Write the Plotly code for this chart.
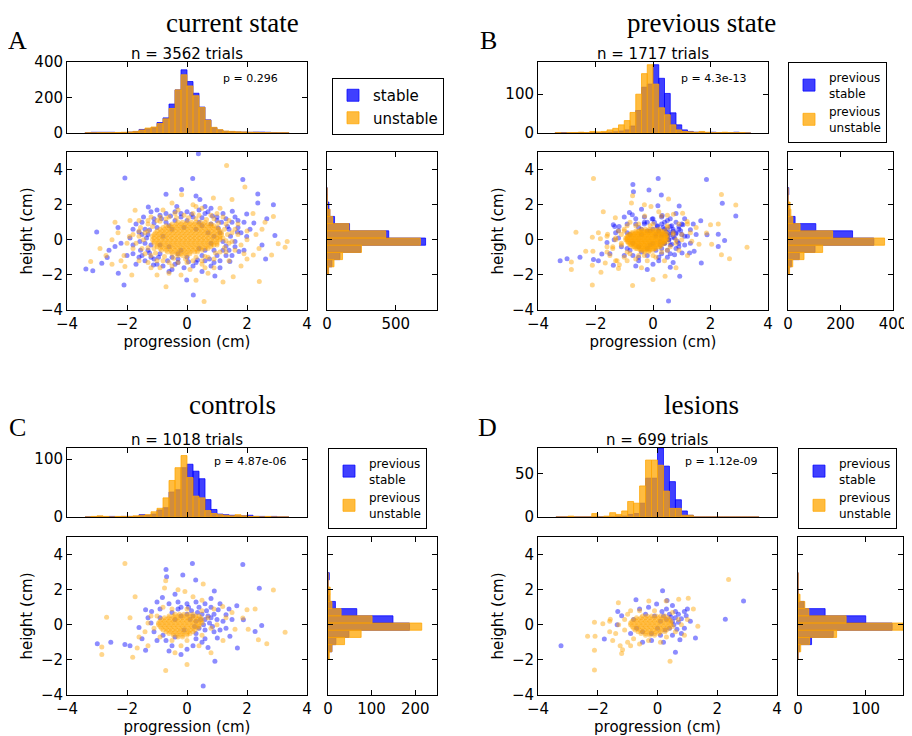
import plotly.graph_objects as go

# The page shows the figure inside an 8 px body margin, so the figure is 8 px
# smaller than the window and every pixel position below is shifted by that margin.
WIN_W, WIN_H = 912, 736
PAGE_MARGIN = 8
W, H = WIN_W - PAGE_MARGIN, WIN_H - PAGE_MARGIN

# ------------------------------------------------------------------ data
N_TRIALS = [3562, 1717, 1018, 699]
P_VALUES = ["0.296", "4.3e-13", "4.87e-06", "1.12e-09"]
PANEL_TITLES = ["current state", "previous state", "controls", "lesions"]
PANEL_LETTERS = ["A", "B", "C", "D"]
SERIES_NAMES = [["stable", "unstable"]] + [["previous<br>stable", "previous<br>unstable"]] * 3

# progression histogram bin centres (cm)
TOP_CENTERS = [-3.3, -3.1, -2.9, -2.7, -2.5, -2.3, -2.1, -1.9, -1.7, -1.5, -1.3, -1.1,
               -0.9, -0.7, -0.5, -0.3, -0.1, 0.1, 0.3, 0.5, 0.7, 0.9, 1.1, 1.3,
               1.5, 1.7, 1.9, 2.1, 2.3, 2.5, 2.7, 2.9, 3.1, 3.3]
# height histogram bin centres (cm)
SIDE_CENTERS = [2.765, 2.355, 1.945, 1.535, 1.125, 0.715, 0.305, -0.105,
                -0.515, -0.925, -1.335, -1.745]

# progression counts
A_TOP_STABLE = [2, 4, 4, 4, 4, 3, 3, 5, 8, 20, 24, 30, 59, 85, 163, 243, 356, 290,
                224, 146, 74, 30, 17, 9, 8, 6, 5, 4, 5, 5, 4, 2, 1, 1]
A_TOP_UNSTABLE = [1, 1, 2, 2, 2, 3, 4, 6, 9, 17, 28, 34, 53, 80, 138, 243, 328, 265,
                  210, 144, 72, 32, 19, 11, 9, 7, 6, 4, 4, 2, 2, 1, 1, 1]
B_TOP_STABLE = [1, 1, 0, 0, 1, 0, 1, 1, 1, 2, 3, 5, 8, 18, 58, 118, 126, 176,
                141, 102, 52, 21, 8, 4, 2, 2, 1, 2, 1, 1, 1, 2, 0, 0]
B_TOP_UNSTABLE = [1, 0, 1, 1, 2, 1, 4, 3, 4, 8, 12, 21, 32, 53, 100, 153, 176, 126,
                  65, 47, 21, 8, 4, 3, 2, 4, 2, 1, 1, 2, 1, 1, 1, 0]
C_TOP_STABLE = [0, 0, 1, 0, 1, 0, 1, 1, 1, 4, 3, 5, 12, 16, 43, 47, 85, 91,
                79, 66, 30, 13, 5, 4, 3, 2, 2, 3, 1, 1, 0, 1, 0, 0]
C_TOP_UNSTABLE = [0, 1, 2, 1, 0, 1, 1, 1, 2, 3, 4, 9, 15, 33, 63, 85, 106, 68,
                  36, 33, 11, 6, 4, 3, 2, 4, 2, 1, 1, 0, 1, 0, 0, 0]
D_TOP_STABLE = [0, 0, 0, 0, 0, 0, 0, 0, 0, 0, 1, 1, 3, 4, 16, 45, 45, 80,
                59, 41, 20, 7, 2, 0, 0, 0, 0, 0, 0, 0, 0, 0, 0, 0]
D_TOP_UNSTABLE = [0, 0, 1, 0, 0, 0, 4, 0, 1, 5, 3, 7, 18, 16, 36, 66, 66, 60,
                  30, 10, 10, 2, 2, 0, 0, 0, 0, 0, 0, 0, 0, 0, 0, 0]

# height counts
A_SIDE_STABLE = [1, 2, 14, 20, 55, 164, 449, 717, 246, 94, 36, 10]
A_SIDE_UNSTABLE = [0, 1, 3, 22, 41, 159, 427, 679, 251, 113, 51, 12]
B_SIDE_STABLE = [3, 0, 2, 5, 27, 106, 246, 327, 103, 43, 13, 4]
B_SIDE_UNSTABLE = [0, 0, 8, 11, 18, 46, 170, 368, 132, 61, 18, 6]
C_SIDE_STABLE = [3, 0, 2, 3, 17, 66, 149, 187, 48, 18, 9, 1]
C_SIDE_UNSTABLE = [0, 0, 5, 5, 9, 30, 101, 215, 76, 38, 9, 3]
D_SIDE_STABLE = [0, 0, 0, 0, 9, 40, 100, 139, 52, 20, 2, 0]
D_SIDE_UNSTABLE = [0, 0, 0, 3, 10, 16, 71, 155, 57, 17, 4, 0]

# (progression, height) trials
A_STABLE_PTS = [
    (0.38, 4.9), (-2.07, 3.52), (0.19, 3.49), (1.86, 3.43), (2.36, 2.61), (-0.18, 2.86),
    (0.43, 2.29), (2.88, 2.0), (2.36, 2.1), (-1.29, 1.87), (-0.34, 1.9), (1.51, 1.62),
    (1.99, 1.47), (2.66, 1.2), (2.23, 0.95), (-3.01, 0.44), (-2.4, -0.38), (-2.66, -1.01),
    (-3.37, -1.66), (-3.14, -1.77), (-2.84, -1.33), (-2.29, -1.9), (-2.1, -2.57),
    (-1.57, -0.1), (-1.12, -1.43), (0.21, -3.14), (-0.01, -2.29), (0.93, -2.06),
    (1.43, -1.24), (1.73, -0.67), (1.99, 0.19), (2.62, -1.09), (2.93, 0.25), (1.68, 0.44),
    (1.04, 0.67), (-0.7, 2.6), (0.3, 2.5), (-1.8, 0.6), (-2.0, -0.9), (-1.7, -1.4),
    (0.5, -1.8), (1.1, -1.6), (-0.6, -1.8), (1.3, 1.2), (0.8, 1.8), (-1.5, 1.0),
    (-2.2, -0.2), (-0.9, 1.4), (0.6, 1.5), (1.7, 1.1), (2.5, -0.3), (-1.3, -0.6),
    (-1.0, 0.7), (-0.7, 1.0), (-0.4, 1.1), (0.0, 1.1), (0.4, 1.0), (0.8, 0.9), (1.1, 0.4),
    (1.2, -0.1), (0.9, -0.6), (0.5, -0.9), (0.0, -1.0), (-0.5, -1.0), (-0.9, -0.8),
    (-1.2, -0.3), (-1.3, 0.3), (-0.8, 0.2), (-0.5, 0.6), (-0.1, 0.7), (0.3, 0.6),
    (0.7, 0.4), (0.8, -0.2), (0.4, -0.5), (-0.2, -0.6), (-0.6, -0.4), (-1.5, -0.9),
    (1.4, 0.6), (-1.1, -1.1), (0.2, 1.3), (-0.3, -1.3), (0.6, -1.2), (1.0, 1.1), (-1.4, 0.6),
    (-1.4, -0.2), (-1.35, 0.1), (-1.25, 0.55), (-1.1, 0.95), (-0.85, 1.2), (-0.55, 1.35),
    (-0.2, 1.5), (0.15, 1.45), (0.5, 1.25), (0.85, 1.35), (1.15, 1.0), (1.35, 0.75),
    (1.45, 0.2), (1.3, -0.35), (1.2, -0.6), (1.0, -0.9), (0.75, -1.1), (0.35, -1.15),
    (0.05, -1.25), (-0.3, -1.1), (-0.65, -1.2), (-0.95, -1.0), (-1.25, -0.75), (-1.55, -0.6),
    (-1.6, 0.45), (-1.45, 1.3), (1.6, 1.3), (1.8, 0.4), (1.6, -0.1), (1.5, -0.9), (0.9, -1.3),
    (-0.1, -1.6), (-1.0, -1.4), (-1.8, -0.8), (-1.9, 0.1), (-0.4, 1.6), (0.7, 1.6), (1.2, 1.5),
    (-1.2, 1.6), (0.2, -1.5), (-0.6, 0.8), (0.5, 0.8), (0.9, 0.2), (-0.9, -0.3), (0.6, -0.6),
    (-0.3, -0.8),
    (-1.7, 0.9), (-1.5, 0.3), (-1.2, -1.0), (-0.8, -1.5), (-0.4, -1.4), (0.3, -1.3),
    (0.8, -1.5), (1.3, -0.9), (1.6, -0.4), (1.7, 0.7), (1.5, 1.0), (1.0, 1.3), (0.4, 1.7),
    (-0.2, 1.3), (-0.7, 1.5), (-1.1, 1.2), (-1.8, -0.3), (-1.6, -1.0), (1.9, -0.6), (2.1, 0.6),
    (-2.3, 0.7), (-2.6, -0.6), (1.1, -1.2), (-0.5, -1.7), (0.6, 1.9), (-1.0, 1.7), (1.4, -0.6),
    (-1.4, -1.2), (0.0, 1.6), (1.9, 1.0),
]
A_UNSTABLE_PTS = [
    (1.32, 4.23), (1.93, 3.01), (0.57, -3.52), (-0.7, -2.67), (2.41, -2.38), (-3.21, -1.24),
    (3.34, -0.1), (3.27, -0.42), (3.04, -0.23), (2.88, 1.33), (0.88, 2.38), (-0.18, 2.57),
    (-1.73, 1.68), (-1.84, -2.0), (-2.07, -1.52), (-1.92, 0.19), (1.54, -2.1), (2.21, -0.86),
    (2.82, -0.86), (-2.7, -0.9), (-2.5, -1.4), (-2.9, -0.5), (2.5, 0.6), (2.2, 1.5),
    (1.8, -1.5), (-1.0, -2.0), (0.3, -2.3), (1.2, -2.4), (-0.5, 2.1), (0.2, 2.0), (1.5, 2.3),
    (-1.2, 1.3), (-2.3, 0.4), (-1.6, -1.2), (2.0, 0.0), (1.7, 0.9), (-0.2, -2.0), (0.7, -1.9),
    (-0.8, 1.7), (0.5, 1.8),
    (-1.3, 0.9), (-1.6, 0.2), (-1.5, -0.5), (-1.2, -0.9), (-0.8, -1.2), (-0.3, -1.3),
    (0.2, -1.2), (0.7, -1.0), (1.1, -0.7), (1.4, -0.2), (1.5, 0.4), (1.3, 0.9), (0.9, 1.2),
    (0.4, 1.4), (-0.1, 1.4), (-0.6, 1.3), (-1.0, 1.1), (-1.7, -0.2), (1.6, -0.6),
    (-0.5, -1.5), (0.5, -1.4), (1.0, 1.5), (-1.4, 0.4), (1.2, 0.1), (-1.1, -0.5), (1.0, -0.3),
    (-1.45, 0.0), (-1.3, 0.5), (-1.15, 0.75), (-0.9, 1.05), (-0.7, 1.2), (-0.35, 1.25),
    (0.05, 1.25), (0.3, 1.2), (0.65, 1.15), (1.05, 0.95), (1.25, 0.6), (1.35, 0.3),
    (1.3, -0.05), (1.25, -0.45), (0.95, -0.75), (0.6, -0.95), (0.3, -1.0), (-0.05, -1.1),
    (-0.45, -1.05), (-0.75, -0.95), (-1.05, -0.75), (-1.3, -0.45), (-1.55, 0.7), (-1.8, -0.5),
    (-1.3, -1.3), (1.7, 0.3), (1.8, -0.3), (1.2, 1.3), (-0.3, 1.7), (0.6, -1.6), (-0.9, -1.6),
    (1.4, -1.2), (-1.6, 1.1), (0.1, -1.7), (2.3, 0.3), (-2.1, -0.9), (2.0, -1.1), (-2.5, 0.0),
    (-1.6, 0.5), (-1.4, -0.8), (-1.0, -1.2), (-0.6, -1.3), (0.0, -1.3), (0.5, -1.2),
    (0.9, -1.1), (1.3, -0.7), (1.5, -0.1), (1.6, 0.6), (1.4, 1.1), (0.8, 1.4), (0.2, 1.5),
    (-0.4, 1.5), (-0.9, 1.3), (-1.3, 1.1), (-1.8, 0.3), (-2.0, -0.2), (2.0, 0.5), (1.9, -0.8),
    (-1.9, 1.1), (-2.2, -1.2), (2.4, -0.5), (1.1, 1.8), (-0.6, -1.9), (0.9, -1.6), (-1.2, -1.6),
    (-2.4, 1.0), (2.6, 1.0), (0.3, 1.9),
]
# dense orange core of panel A, row by row: (height, [progressions])
A_UNSTABLE_CORE = [
    (1.0, [-0.3, -0.15, 0.0, 0.15, 0.3, 0.45, 0.6]),
    (0.9, [-0.5, -0.35, -0.2, -0.05, 0.1, 0.25, 0.4, 0.55, 0.7, 0.8]),
    (0.8, [-0.7, -0.55, -0.4, -0.25, -0.1, 0.05, 0.2, 0.35, 0.5, 0.65, 0.8, 0.9]),
    (0.7, [-0.8, -0.65, -0.5, -0.35, -0.2, -0.05, 0.1, 0.25, 0.4, 0.55, 0.7, 0.85, 1.0]),
    (0.6, [-0.9, -0.75, -0.6, -0.45, -0.3, -0.15, 0.0, 0.15, 0.3, 0.45, 0.6, 0.75, 0.9, 1.05]),
    (0.5, [-1.0, -0.85, -0.7, -0.55, -0.4, -0.25, -0.1, 0.05, 0.2, 0.35, 0.5, 0.65, 0.8, 0.95, 1.1]),
    (0.4, [-1.05, -0.9, -0.75, -0.6, -0.45, -0.3, -0.15, 0.0, 0.15, 0.3, 0.45, 0.6, 0.75, 0.9, 1.05, 1.15]),
    (0.3, [-1.1, -0.95, -0.8, -0.65, -0.5, -0.35, -0.2, -0.05, 0.1, 0.25, 0.4, 0.55, 0.7, 0.85, 1.0, 1.15]),
    (0.2, [-1.15, -1.0, -0.85, -0.7, -0.55, -0.4, -0.25, -0.1, 0.05, 0.2, 0.35, 0.5, 0.65, 0.8, 0.95, 1.1]),
    (0.1, [-1.1, -0.95, -0.8, -0.65, -0.5, -0.35, -0.2, -0.05, 0.1, 0.25, 0.4, 0.55, 0.7, 0.85, 1.0, 1.1]),
    (0.0, [-1.15, -1.0, -0.85, -0.7, -0.55, -0.4, -0.25, -0.1, 0.05, 0.2, 0.35, 0.5, 0.65, 0.8, 0.95, 1.1]),
    (-0.1, [-1.1, -0.95, -0.8, -0.65, -0.5, -0.35, -0.2, -0.05, 0.1, 0.25, 0.4, 0.55, 0.7, 0.85, 1.0]),
    (-0.2, [-1.1, -0.95, -0.8, -0.65, -0.5, -0.35, -0.2, -0.05, 0.1, 0.25, 0.4, 0.55, 0.7, 0.85, 1.0]),
    (-0.3, [-1.0, -0.85, -0.7, -0.55, -0.4, -0.25, -0.1, 0.05, 0.2, 0.35, 0.5, 0.65, 0.8, 0.9]),
    (-0.4, [-1.0, -0.85, -0.7, -0.55, -0.4, -0.25, -0.1, 0.05, 0.2, 0.35, 0.5, 0.65, 0.8]),
    (-0.5, [-0.9, -0.75, -0.6, -0.45, -0.3, -0.15, 0.0, 0.15, 0.3, 0.45, 0.6, 0.7]),
    (-0.6, [-0.85, -0.7, -0.55, -0.4, -0.25, -0.1, 0.05, 0.2, 0.35, 0.5]),
    (-0.7, [-0.65, -0.5, -0.35, -0.2, -0.05, 0.1, 0.25, 0.35]),
    (-0.8, [-0.5, -0.35, -0.2, -0.05, 0.1]),
    (-0.9, [-0.3, -0.15, 0.0]),
]
C_STABLE_PTS = [
    (0.18, 3.49), (-0.7, 3.15), (-0.68, 2.74), (-0.14, 2.83), (1.86, 3.43), (0.29, 2.55),
    (2.41, 2.08), (0.91, 1.92), (-0.4, 1.74), (-0.82, 1.55), (1.66, 1.08), (2.49, -0.04),
    (2.27, -0.38), (1.68, -1.32), (0.93, -2.08), (0.54, -3.49), (-0.2, -1.7), (-1.38, -1.45),
    (-2.07, -1.13), (-2.99, -1.08), (-2.54, -1.0), (-1.6, -0.15), (-1.38, 0.85), (-1.18, 0.75),
    (1.3, 0.57), (1.04, 0.85), (1.01, -0.75), (1.43, -0.66), (1.88, 0.28), (-1.9, -1.2),
    (-1.0, -0.9), (-0.9, 0.4), (-0.6, 1.2), (-0.3, 1.3), (0.0, 1.2), (0.3, 1.3), (0.6, 1.2),
    (0.8, 1.0), (0.5, -1.0), (0.2, -1.2), (-0.5, -1.2), (-0.8, -0.6), (1.2, 0.2), (1.1, -0.3),
    (0.9, 0.6), (-1.2, 0.1), (1.4, 0.9), (-0.6, -1.5), (0.7, -1.3), (-1.5, -0.8),
    (0.2, 0.5), (0.35, 0.7), (0.5, 0.6), (0.6, 0.3), (0.7, 0.5), (0.45, 0.3), (0.3, 0.2),
    (0.55, 0.0), (0.75, 0.1), (0.4, -0.2), (0.15, 0.8), (0.65, 0.8), (0.8, 0.4), (0.1, 0.3),
    (0.25, -0.1), (0.6, -0.3), (0.85, -0.1), (0.0, 0.6), (-0.2, 0.5), (-0.4, 0.3), (-0.1, -0.3),
    (0.3, -0.5), (-0.5, 0.7), (0.05, 1.0),
    (-0.9, 0.9), (-0.3, 0.9), (0.4, 1.0), (1.0, 0.3), (0.9, -0.4), (0.3, -0.8), (-0.4, -0.7),
    (-1.1, -0.4), (-0.7, -0.9), (1.3, -0.2), (0.6, -0.8), (-0.2, 1.0), (1.1, 1.2), (-1.3, 0.4),
    (0.0, -1.4), (1.5, 0.3), (-1.0, 1.3), (0.8, 1.5),
]
C_UNSTABLE_PTS = [
    (-2.07, 3.49), (-0.71, 2.51), (0.54, 2.32), (-0.07, 1.89), (-1.73, 1.6), (-2.68, 0.43),
    (-2.84, -1.26), (-2.84, -1.7), (-1.81, -1.85), (-1.66, -1.32), (-0.71, -2.6), (0.0, -2.26),
    (2.88, 1.98), (3.27, -0.42), (2.66, -1.08), (2.38, -0.85), (2.04, -0.25), (2.27, 0.9),
    (1.6, -0.25), (1.86, 0.38), (1.19, 1.04), (-0.75, 2.1), (-0.3, 2.0), (2.0, 0.85), (1.5, 0.7),
    (-1.3, -1.2), (-1.2, 0.5), (-1.4, -0.4), (0.8, -1.6), (1.2, -0.9), (-0.4, -1.6), (0.2, 1.6),
    (0.5, 1.4),
    (-1.0, 0.5), (-1.1, -0.2), (-0.9, -0.7), (-0.5, -0.9), (0.0, -0.9), (0.5, -0.6), (0.8, -0.2),
    (0.7, 0.4), (0.5, 0.8), (0.0, 0.9), (-0.5, 0.9), (-1.3, 0.1), (1.0, 0.0), (-0.8, 1.0),
    (0.9, 0.9), (-1.6, -0.7), (1.3, 0.4), (-0.2, -1.2), (0.4, -1.2), (-1.9, 0.4),
]
C_UNSTABLE_CORE = [
    (0.6, [-0.4, -0.25, -0.1, 0.05, 0.2]),
    (0.5, [-0.6, -0.45, -0.3, -0.15, 0.0, 0.15, 0.3, 0.4]),
    (0.4, [-0.75, -0.6, -0.45, -0.3, -0.15, 0.0, 0.15, 0.3, 0.45]),
    (0.3, [-0.85, -0.7, -0.55, -0.4, -0.25, -0.1, 0.05, 0.2, 0.35, 0.5]),
    (0.2, [-0.9, -0.75, -0.6, -0.45, -0.3, -0.15, 0.0, 0.15, 0.3, 0.45]),
    (0.1, [-0.95, -0.8, -0.65, -0.5, -0.35, -0.2, -0.05, 0.1, 0.25, 0.4, 0.5]),
    (0.0, [-0.95, -0.8, -0.65, -0.5, -0.35, -0.2, -0.05, 0.1, 0.25, 0.4]),
    (-0.1, [-0.9, -0.75, -0.6, -0.45, -0.3, -0.15, 0.0, 0.15, 0.3, 0.4]),
    (-0.2, [-0.85, -0.7, -0.55, -0.4, -0.25, -0.1, 0.05, 0.2, 0.35]),
    (-0.3, [-0.8, -0.65, -0.5, -0.35, -0.2, -0.05, 0.1, 0.25]),
    (-0.4, [-0.7, -0.55, -0.4, -0.25, -0.1, 0.05, 0.2]),
    (-0.5, [-0.6, -0.45, -0.3, -0.15, 0.0, 0.1]),
    (-0.6, [-0.45, -0.3, -0.15, 0.0]),
    (-0.7, [-0.3, -0.15]),
]
D_STABLE_PTS = [
    (-3.23, -1.19), (2.88, 1.36), (2.27, 0.32), (0.17, 1.94), (-0.72, 1.42), (-1.33, 0.75),
    (-1.2, 0.51), (-1.35, 0.0), (-1.78, -0.81), (0.6, -1.57), (1.27, -0.75), (0.32, 1.38),
    (0.9, 0.75), (0.96, 0.51), (-0.03, 1.19), (0.75, -0.85), (-0.5, -1.0), (-0.2, -0.9),
    (0.2, -1.0), (-0.9, -0.5), (-0.8, 0.3), (0.5, 1.1), (1.1, 0.2), (-0.6, 0.9),
    (0.2, 0.5), (0.4, 0.6), (0.6, 0.4), (0.5, 0.2), (0.7, 0.6), (0.3, 0.3), (0.55, 0.0),
    (0.7, 0.15), (0.4, -0.2), (0.15, 0.75), (0.6, 0.75), (0.1, 0.2), (0.25, -0.3), (0.8, 0.35),
    (-0.1, 0.5), (0.0, -0.2), (0.45, 0.45), (0.65, -0.25),
    (-0.4, 0.6), (-0.5, -0.4), (0.1, -0.6), (0.9, -0.2), (1.0, 0.9), (-0.3, 1.0), (0.3, 0.9),
    (0.8, -0.5), (-0.2, -0.5), (0.5, -0.6), (-0.7, -0.2),
]
D_UNSTABLE_PTS = [
    (2.38, 2.58), (-2.11, -2.58), (-2.11, -1.45), (-2.34, -0.66), (-2.09, -0.66), (-1.83, 0.06),
    (-2.11, 0.15), (-1.58, 0.32), (-1.31, 1.26), (-0.29, 1.36), (0.29, 1.36), (0.71, 1.45),
    (1.03, 1.51), (1.35, -0.09), (0.42, -2.08), (-1.17, -1.42), (-1.2, -1.64), (-1.6, 0.2),
    (-1.0, -1.0), (-1.4, -0.5), (-0.9, 0.8), (-1.1, 0.3), (-0.6, -1.1), (0.1, -1.0), (0.9, -0.6),
    (1.0, 0.3), (-1.6, -0.4), (-1.25, -1.2),
    (-1.0, 0.6), (-1.1, -0.3), (-0.8, -0.8), (-0.3, -0.9), (0.3, -0.7), (0.6, -0.4), (0.7, 0.3),
    (0.5, 0.7), (-0.1, 0.8), (-0.6, 0.8), (-1.3, 0.0), (0.8, 0.0), (-0.9, -1.2), (-1.5, -0.9),
    (1.2, 0.9),
]
D_UNSTABLE_CORE = [
    (0.5, [-0.5, -0.35, -0.2, -0.05, 0.1, 0.25]),
    (0.4, [-0.7, -0.55, -0.4, -0.25, -0.1, 0.05, 0.2, 0.35]),
    (0.3, [-0.8, -0.65, -0.5, -0.35, -0.2, -0.05, 0.1, 0.25, 0.4]),
    (0.2, [-0.85, -0.7, -0.55, -0.4, -0.25, -0.1, 0.05, 0.2, 0.35, 0.45]),
    (0.1, [-0.9, -0.75, -0.6, -0.45, -0.3, -0.15, 0.0, 0.15, 0.3, 0.45]),
    (0.0, [-0.9, -0.75, -0.6, -0.45, -0.3, -0.15, 0.0, 0.15, 0.3, 0.45]),
    (-0.1, [-0.85, -0.7, -0.55, -0.4, -0.25, -0.1, 0.05, 0.2, 0.35, 0.5]),
    (-0.2, [-0.8, -0.65, -0.5, -0.35, -0.2, -0.05, 0.1, 0.25, 0.4]),
    (-0.3, [-0.75, -0.6, -0.45, -0.3, -0.15, 0.0, 0.15, 0.3]),
    (-0.4, [-0.65, -0.5, -0.35, -0.2, -0.05, 0.1, 0.25]),
    (-0.5, [-0.55, -0.4, -0.25, -0.1, 0.05]),
    (-0.6, [-0.4, -0.25, -0.1]),
]


def with_core(pts, core_rows):
    return pts + [(x, yv) for yv, xs in core_rows for x in xs]


A_UNSTABLE_ALL = with_core(A_UNSTABLE_PTS, A_UNSTABLE_CORE)
C_UNSTABLE_ALL = with_core(C_UNSTABLE_PTS, C_UNSTABLE_CORE)
D_UNSTABLE_ALL = with_core(D_UNSTABLE_PTS, D_UNSTABLE_CORE)
# panel B (all animals, previous state) = controls + lesions
B_STABLE_ALL = C_STABLE_PTS + D_STABLE_PTS
B_UNSTABLE_ALL = C_UNSTABLE_ALL + D_UNSTABLE_ALL

DATA = [
    (A_TOP_STABLE, A_TOP_UNSTABLE, A_SIDE_STABLE, A_SIDE_UNSTABLE, A_STABLE_PTS, A_UNSTABLE_ALL),
    (B_TOP_STABLE, B_TOP_UNSTABLE, B_SIDE_STABLE, B_SIDE_UNSTABLE, B_STABLE_ALL, B_UNSTABLE_ALL),
    (C_TOP_STABLE, C_TOP_UNSTABLE, C_SIDE_STABLE, C_SIDE_UNSTABLE, C_STABLE_PTS, C_UNSTABLE_ALL),
    (D_TOP_STABLE, D_TOP_UNSTABLE, D_SIDE_STABLE, D_SIDE_UNSTABLE, D_STABLE_PTS, D_UNSTABLE_ALL),
]

# ------------------------------------------------------------------ layout (window pixels)
GEOM = [
    dict(top=(67, 307, 62, 133), sc=(67, 307, 152, 310), side=(327, 437, 152, 310),
         top_max=400, top_ticks=[0, 200, 400], side_max=800, side_ticks=[0, 500],
         title=(232, 23), letter=(17, 41), n=(187, 54), p=(221, 78), leg=(332, 78), legfont=15),
    dict(top=(538, 768, 62, 133), sc=(538, 768, 152, 310), side=(788, 893, 152, 310),
         top_max=183, top_ticks=[0, 100], side_max=400, side_ticks=[0, 200, 400],
         title=(701, 23), letter=(488, 41), n=(653, 54), p=(679, 79), leg=(788, 62), legfont=12),
    dict(top=(67, 307, 448, 517), sc=(67, 307, 537, 695), side=(328, 437, 537, 695),
         top_max=119, top_ticks=[0, 100], side_max=250, side_ticks=[0, 100, 200],
         title=(232, 405), letter=(17, 428), n=(187, 440), p=(212, 461), leg=(328, 448), legfont=12),
    dict(top=(538, 777, 448, 517), sc=(538, 777, 537, 695), side=(798, 903, 537, 695),
         top_max=80, top_ticks=[0, 50], side_max=155, side_ticks=[0, 100],
         title=(701, 405), letter=(487, 428), n=(657, 440), p=(683, 461), leg=(798, 448), legfont=12),
]

BLUE_BAR = "rgba(0,0,255,0.75)"
ORANGE_BAR = "rgba(255,165,0,0.75)"
BLUE_PT = "rgba(0,0,255,0.45)"
ORANGE_PT = "rgba(255,165,0,0.45)"
SANS = "DejaVu Sans"
SERIF = "Liberation Serif"
TOP_W = 0.2
SIDE_W = 0.41


def px(x):
    return (x - PAGE_MARGIN) / W


def py(y):
    return 1 - (y - PAGE_MARGIN) / H


def dx(a, b):
    return [px(a), px(b)]


def dy(a, b):
    return [py(b), py(a)]


AX = dict(showline=True, linecolor="black", linewidth=1, mirror="allticks",
          ticks="inside", ticklen=5, tickcolor="black", showgrid=False, zeroline=False,
          automargin=False, tickfont=dict(family=SANS, size=15, color="black"))

fig = go.Figure()
layout = dict(width=W, height=H, margin=dict(l=0, r=0, t=0, b=0, autoexpand=False),
              paper_bgcolor="white", plot_bgcolor="white", barmode="overlay",
              showlegend=True, annotations=[])

for i, (g, d) in enumerate(zip(GEOM, DATA)):
    top_s, top_u, side_s, side_u, pts_s, pts_u = d
    n_top, n_sc, n_side = 3 * i + 1, 3 * i + 2, 3 * i + 3
    leg = "legend" if i == 0 else f"legend{i + 1}"
    names = SERIES_NAMES[i]

    for vals, col, name in ((top_s, BLUE_BAR, names[0]), (top_u, ORANGE_BAR, names[1])):
        fig.add_trace(go.Bar(x=TOP_CENTERS, y=vals, width=TOP_W, name=name,
                             marker=dict(color=col, line=dict(color=col, width=1)),
                             xaxis=f"x{n_top}", yaxis=f"y{n_top}", legend=leg,
                             hoverinfo="skip"))
    for pts, col in ((pts_s, BLUE_PT), (pts_u, ORANGE_PT)):
        fig.add_trace(go.Scatter(x=[p[0] for p in pts], y=[p[1] for p in pts], mode="markers",
                                 marker=dict(size=5, color=col, line=dict(width=0)),
                                 xaxis=f"x{n_sc}", yaxis=f"y{n_sc}", showlegend=False,
                                 hoverinfo="skip"))
    for vals, col in ((side_s, BLUE_BAR), (side_u, ORANGE_BAR)):
        fig.add_trace(go.Bar(y=SIDE_CENTERS, x=vals, width=SIDE_W, orientation="h",
                             marker=dict(color=col, line=dict(color=col, width=1)),
                             xaxis=f"x{n_side}", yaxis=f"y{n_side}", showlegend=False,
                             hoverinfo="skip"))

    t = g["top"]
    layout[f"xaxis{n_top}"] = dict(AX, domain=dx(t[0], t[1]), anchor=f"y{n_top}",
                                   range=[-4, 4], tickvals=[-4, -2, 0, 2, 4], showticklabels=False)
    layout[f"yaxis{n_top}"] = dict(AX, domain=dy(t[2], t[3]), anchor=f"x{n_top}",
                                   range=[0, g["top_max"]], tickvals=g["top_ticks"])
    s = g["sc"]
    layout[f"xaxis{n_sc}"] = dict(AX, domain=dx(s[0], s[1]), anchor=f"y{n_sc}",
                                  range=[-4, 4], tickvals=[-4, -2, 0, 2, 4],
                                  title=dict(text="progression (cm)", standoff=3,
                                             font=dict(family=SANS, size=15, color="black")))
    layout[f"yaxis{n_sc}"] = dict(AX, domain=dy(s[2], s[3]), anchor=f"x{n_sc}",
                                  range=[-4, 5], tickvals=[-4, -2, 0, 2, 4],
                                  title=dict(text="height (cm)", standoff=4,
                                             font=dict(family=SANS, size=15, color="black")))
    h = g["side"]
    layout[f"xaxis{n_side}"] = dict(AX, domain=dx(h[0], h[1]), anchor=f"y{n_side}",
                                    range=[0, g["side_max"]], tickvals=g["side_ticks"])
    layout[f"yaxis{n_side}"] = dict(AX, domain=dy(h[2], h[3]), anchor=f"x{n_side}",
                                    range=[-4, 5], tickvals=[-4, -2, 0, 2, 4], showticklabels=False)

    lx, ly = g["leg"]
    layout[leg] = dict(x=px(lx), y=py(ly), xanchor="left", yanchor="top",
                       bordercolor="black", borderwidth=1, bgcolor="white",
                       font=dict(family=SANS, size=g["legfont"], color="black"),
                       traceorder="normal")

    ann = layout["annotations"]
    ann.append(dict(text=PANEL_TITLES[i], x=px(g["title"][0]), y=py(g["title"][1]),
                    xref="paper", yref="paper", showarrow=False, xanchor="center", yanchor="middle",
                    font=dict(family=SERIF, size=27, color="black")))
    ann.append(dict(text=PANEL_LETTERS[i], x=px(g["letter"][0]), y=py(g["letter"][1]),
                    xref="paper", yref="paper", showarrow=False, xanchor="center", yanchor="middle",
                    font=dict(family=SERIF, size=26, color="black")))
    ann.append(dict(text=f"n = {N_TRIALS[i]} trials", x=px(g["n"][0]), y=py(g["n"][1]),
                    xref="paper", yref="paper", showarrow=False, xanchor="center", yanchor="middle",
                    font=dict(family=SANS, size=15, color="black")))
    ann.append(dict(text=f"p = {P_VALUES[i]}", x=px(g["p"][0]), y=py(g["p"][1]),
                    xref="paper", yref="paper", showarrow=False, xanchor="left", yanchor="middle",
                    font=dict(family=SANS, size=11, color="black")))

fig.update_layout(**layout)
fig.write_html("out.html")
